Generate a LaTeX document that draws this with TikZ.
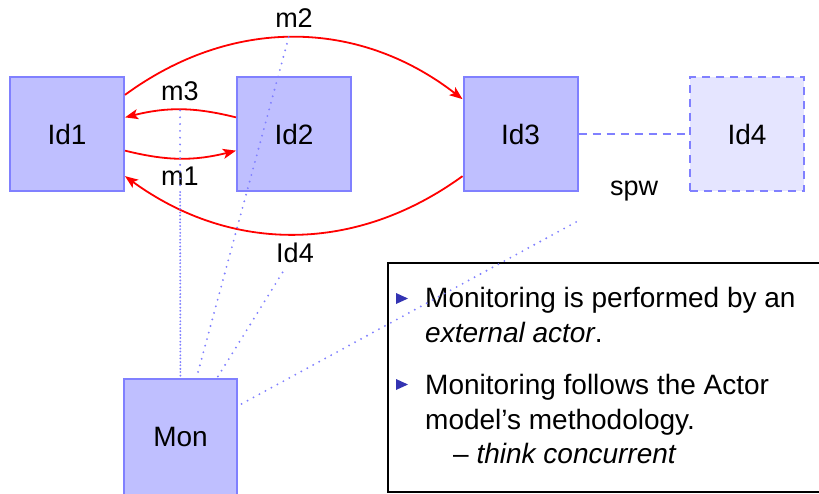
\documentclass[tikz,border=0pt]{standalone}
\usepackage{fontspec}
\setmainfont{Liberation Sans}
\usetikzlibrary{arrows.meta}
\definecolor{structure}{rgb}{0.2,0.2,0.7}
\begin{document}
\begin{tikzpicture}[x=1pt,y=-1pt,
  actor/.style={draw=blue!50, fill=blue!25, line width=2pt,
    minimum width=114pt, minimum height=114pt, inner sep=0pt,
    font=\fontsize{28}{34}\selectfont},
  ghost/.style={actor, fill=blue!10, dash pattern=on 8pt off 6pt},
  msg/.style={red, line width=1.8pt,
    -{Stealth[length=13pt,width=10pt,inset=3pt]}},
  msglabel/.style={inner sep=10pt, anchor=base,
    font=\fontsize{27}{32}\selectfont},
  probe/.style={blue!50, line width=2.1pt, line cap=round,
    dash pattern=on 0pt off 6.8pt},
  link/.style={blue!50, line width=1.6pt, dash pattern=on 8pt off 6pt},
  notetext/.style={inner sep=0pt, anchor=base west,
    font=\fontsize{28}{34}\selectfont},
  bullet/.style={fill=structure}
]
\useasboundingbox (0,0) rectangle (819,493);

% actors
\node[actor] (Id1) at (67,134) {Id1};
\node[actor] (Id2) at (294,134) {Id2};
\node[actor] (Id3) at (520.5,134) {Id3};
\node[ghost] (Id4) at (747,134) {Id4};
\node[actor, minimum width=113pt, minimum height=116pt] (Mon) at (180.5,437) {Mon};

% spawn link
\draw[link] (Id3) -- (Id4);

% messages
\draw[msg] (Id1.34) to[bend left=37] (Id3.149);
\draw[msg] (Id2.164) to[bend right=14] (Id1.16);
\draw[msg] (Id1.-16) to[bend right=14] (Id2.196);
\draw[msg] (Id3.216) to[bend left=36] (Id1.-36);

% message labels
\node[msglabel] (m2) at (294,27) {m2};
\node[msglabel] (m3) at (180,100) {m3};
\node[msglabel] (m1) at (180,185) {m1};
\node[msglabel] (l4) at (295,262) {Id4};
\node[msglabel] (spw) at (634,195) {spw};

% note box
\node[draw=black, line width=2pt, inner sep=0pt, anchor=north west,
  minimum width=460pt, minimum height=229pt] (note) at (387,262) {};
\fill[bullet] (396,293) -- (408,298.5) -- (396,304) -- cycle;
\node[notetext] (t1) at (425,307) {Monitoring is performed by an};
\node[notetext] (t2) at (425,342) {\textit{external actor}.};
\fill[bullet] (396,379) -- (408,384.5) -- (396,390) -- cycle;
\node[notetext] (t3) at (425,394) {Monitoring follows the Actor};
\node[notetext] (t4) at (425,429) {model’s methodology.};
\node[notetext] (t5) at (453,463) {– \textit{think concurrent}};

% monitor probes
\draw[probe] (m3) -- (Mon);
\draw[probe] (m1) -- (Mon);
\draw[probe] (m2) -- (Mon);
\draw[probe] (l4) -- (Mon);
\draw[probe, shorten <=27pt] (spw) -- (Mon);
\end{tikzpicture}
\end{document}
